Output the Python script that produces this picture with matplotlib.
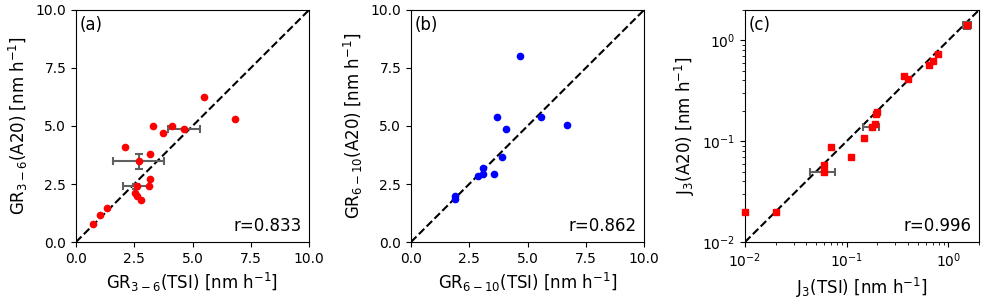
import matplotlib
matplotlib.use("Agg")
import matplotlib.pyplot as plt
import numpy as np

# Panel (a): GR 3-6 nm
gr36_tsi = [0.72, 1.02, 1.32, 2.09, 2.69, 3.19, 3.19, 3.12, 2.61, 2.52, 2.61, 2.81, 3.30, 3.72, 4.11, 4.63, 5.49, 6.81]
gr36_a20 = [0.76, 1.18, 1.48, 4.09, 3.47, 3.78, 2.70, 2.40, 2.40, 2.12, 1.97, 1.80, 4.99, 4.68, 4.99, 4.89, 6.27, 5.29]
# error bars in (a): x, y, xerr, yerr
gr36_err_x = [2.69, 2.57, 4.63]
gr36_err_y = [3.47, 2.40, 4.89]
gr36_err_xe = [1.10, 0.57, 0.70]
gr36_err_ye = [0.32, 0.12, 0.0]

# Panel (b): GR 6-10 nm
gr610_tsi = [1.88, 1.88, 2.87, 3.08, 3.08, 3.58, 3.90, 3.68, 4.07, 4.66, 5.57, 6.69]
gr610_a20 = [1.97, 1.86, 2.86, 3.18, 2.95, 2.95, 3.68, 5.37, 4.89, 8.00, 5.37, 5.06]

# Panel (c): J3
j3_tsi = [0.010, 0.020, 0.060, 0.060, 0.070, 0.110, 0.148, 0.176, 0.188, 0.196, 0.199, 0.369, 0.401, 0.641, 0.701, 0.791, 1.53]
j3_a20 = [0.020, 0.020, 0.049, 0.058, 0.088, 0.069, 0.108, 0.139, 0.148, 0.185, 0.196, 0.441, 0.411, 0.566, 0.630, 0.727, 1.41]
j3_err_x = [0.060, 0.176, 1.53]
j3_err_y = [0.049, 0.139, 1.41]
j3_err_xe = [0.016, 0.030, 0.15]
j3_err_ye = [0.0, 0.0, 0.12]

r_values = ["r=0.833", "r=0.862", "r=0.996"]
panel_labels = ["(a)", "(b)", "(c)"]

fig = plt.figure(figsize=(9.89, 3.02), dpi=100)
W, H = 989, 302
def axrect(l, r, t, b):
    return [l / W, 1 - b / H, (r - l) / W, (b - t) / H]

ax1 = fig.add_axes(axrect(76, 309, 10, 242))
ax2 = fig.add_axes(axrect(411, 644, 10, 242))
ax3 = fig.add_axes(axrect(745, 979, 10, 242))

ecol = '#606060'

# (a)
ax1.plot([0, 10], [0, 10], 'k--', lw=1.5, zorder=1)
ax1.errorbar(gr36_err_x, gr36_err_y, xerr=gr36_err_xe, yerr=gr36_err_ye, fmt='none',
             ecolor=ecol, elinewidth=1.5, capsize=3, capthick=1.5, zorder=2)
ax1.plot(gr36_tsi, gr36_a20, 'o', color='red', ms=4.5, zorder=3)
ax1.set_xlim(0, 10); ax1.set_ylim(0, 10)
ax1.set_xticks([0, 2.5, 5, 7.5, 10]); ax1.set_yticks([0, 2.5, 5, 7.5, 10])
ax1.set_xlabel(r'GR$_{3-6}$(TSI) [nm h$^{-1}$]', fontsize=12)
ax1.set_ylabel(r'GR$_{3-6}$(A20) [nm h$^{-1}$]', fontsize=12)

# (b)
ax2.plot([0, 10], [0, 10], 'k--', lw=1.5, zorder=1)
ax2.plot(gr610_tsi, gr610_a20, 'o', color='blue', ms=4.5, zorder=3)
ax2.set_xlim(0, 10); ax2.set_ylim(0, 10)
ax2.set_xticks([0, 2.5, 5, 7.5, 10]); ax2.set_yticks([0, 2.5, 5, 7.5, 10])
ax2.set_xlabel(r'GR$_{6-10}$(TSI) [nm h$^{-1}$]', fontsize=12)
ax2.set_ylabel(r'GR$_{6-10}$(A20) [nm h$^{-1}$]', fontsize=12)

# (c)
ax3.plot([0.01, 2], [0.01, 2], 'k--', lw=1.5, zorder=1)
ax3.errorbar(j3_err_x, j3_err_y, xerr=j3_err_xe, yerr=j3_err_ye, fmt='none',
             ecolor=ecol, elinewidth=1.5, capsize=3, capthick=1.5, zorder=2)
ax3.plot(j3_tsi, j3_a20, 's', color='red', ms=5, zorder=3, clip_on=False)
ax3.set_xscale('log'); ax3.set_yscale('log')
ax3.set_xlim(0.01, 2); ax3.set_ylim(0.01, 2)
ax3.set_xlabel(r'J$_3$(TSI) [nm h$^{-1}$]', fontsize=12)
ax3.set_ylabel(r'J$_3$(A20) [nm h$^{-1}$]', fontsize=12)

for ax, lab, r in zip([ax1, ax2, ax3], panel_labels, r_values):
    ax.text(0.015, 0.975, lab, transform=ax.transAxes, ha='left', va='top', fontsize=12)
    ax.text(0.97, 0.03, r, transform=ax.transAxes, ha='right', va='bottom', fontsize=12)
    ax.tick_params(labelsize=10)

fig.savefig('out.png', dpi=100)
